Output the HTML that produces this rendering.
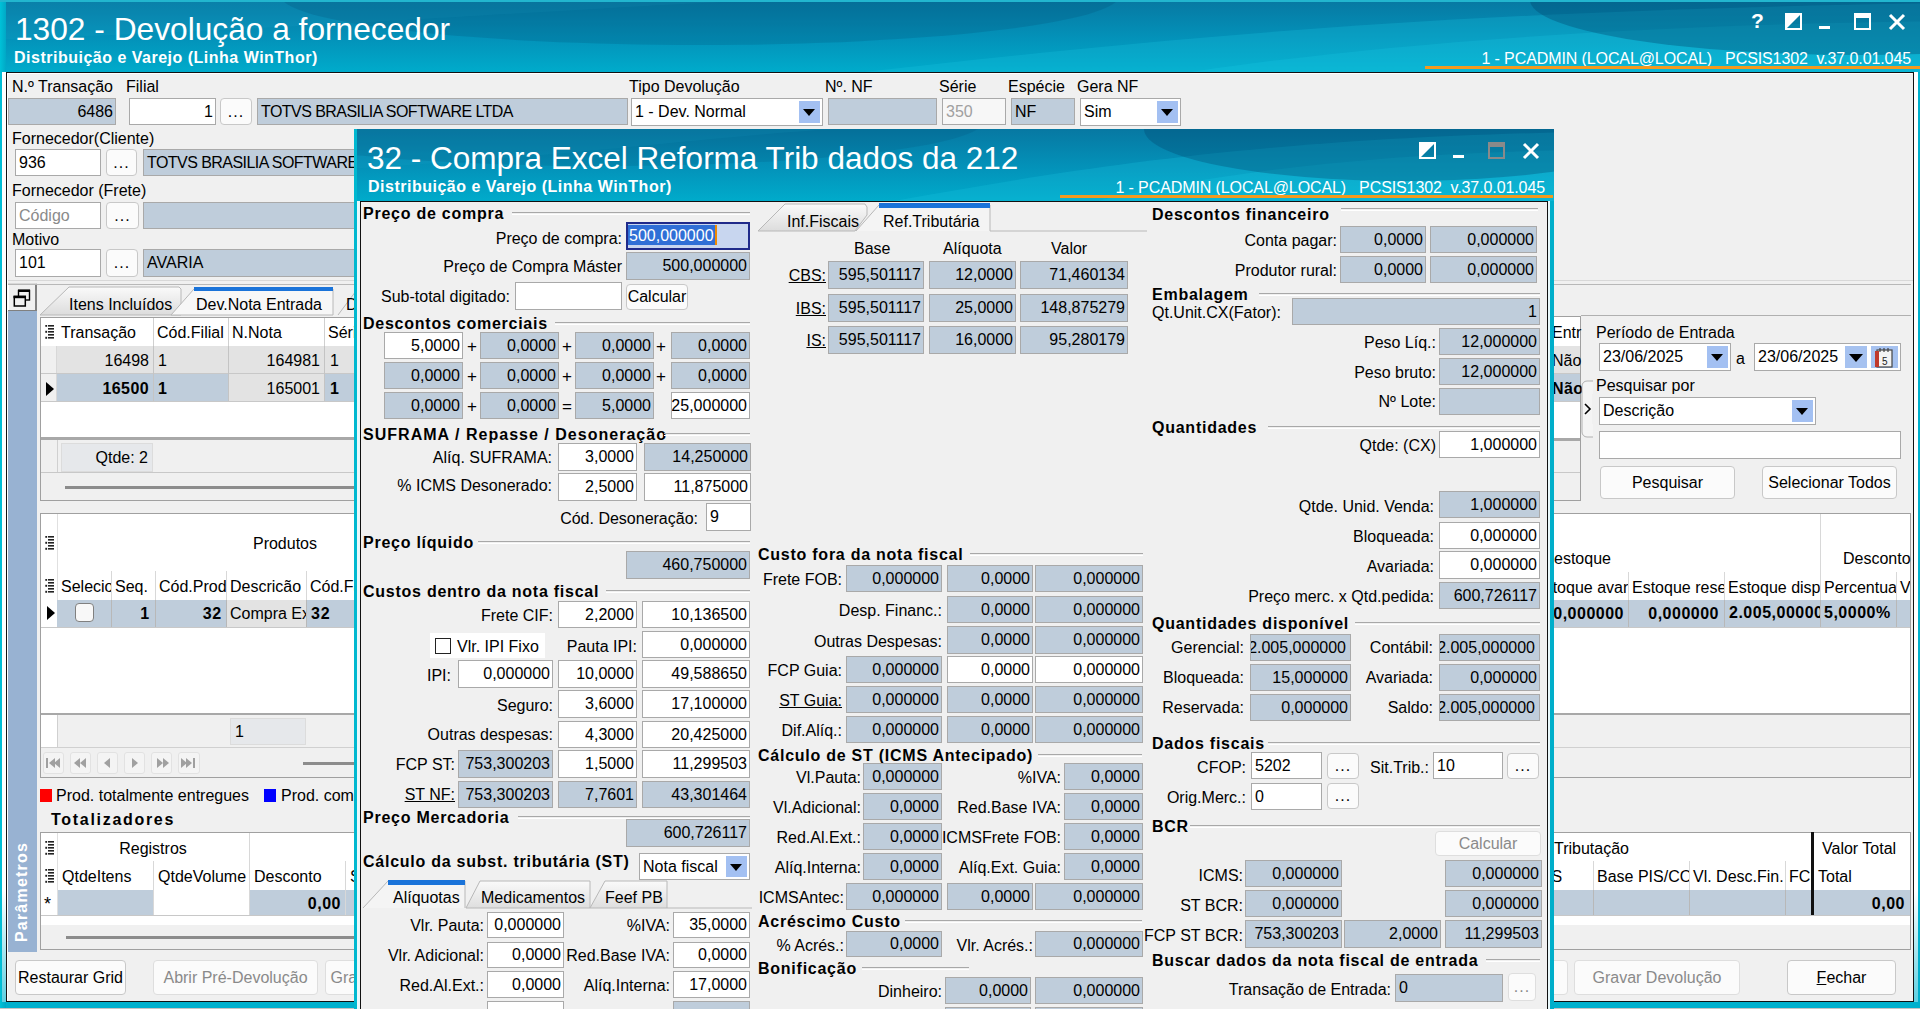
<!DOCTYPE html>
<html><head><meta charset="utf-8"><title>1302 - Devolução a fornecedor</title>
<style>html,body{margin:0;padding:0}
body{width:1920px;height:1009px;overflow:hidden;position:relative;font-family:"Liberation Sans",sans-serif;background:#00a9c9}
.a{position:absolute}
.t{position:absolute;white-space:nowrap;font-size:16px;line-height:18px;letter-spacing:0;color:#000}
.b{font-weight:bold;font-size:16px;letter-spacing:.75px}
.w{color:#fff}
.f{position:absolute;box-sizing:border-box;border:1px solid #a9a9a9;font-size:16px;letter-spacing:0;color:#000;white-space:nowrap;overflow:hidden;padding:0 2px 0 3px}
.ro{background:#bfcddb}
.wh{background:#fff}
.dd{position:absolute;right:2px;top:2px;width:21px;background:#a3c0f2}
.dd i{position:absolute;left:4px;top:50%;margin-top:-3px;border-left:6px solid transparent;border-right:6px solid transparent;border-top:7px solid #000}
.btn{position:absolute;box-sizing:border-box;border:1px solid #c8c8c8;border-radius:4px;background:#fbfbfb;font-size:16px;letter-spacing:0;color:#000;text-align:center;white-space:nowrap}
.btn.dis{color:#8a8a8a;border-color:#dedede}
.dots{letter-spacing:1px;font-weight:bold}
.sl{position:absolute;height:1px;border-top:1px solid #a8a8a8;border-bottom:1px solid #fff}
.u{text-decoration:underline}
.gi{width:12px;height:14px;background:repeating-linear-gradient(180deg,#000 0 2px,transparent 2px 3px);-webkit-mask:linear-gradient(90deg,#000 0 2px,transparent 2px 4px,#000 4px 12px)}
.dots{font-weight:normal}
</style></head><body>
<div class="a" style="left:0px;top:0px;width:1920px;height:1009px;background:#00b0cd"></div>
<svg class="a" style="left:0px;top:0px" width="1920" height="72"><defs><linearGradient id="bgm" x1="0" y1="0" x2="0" y2="1"><stop offset="0" stop-color="#0778a2"/><stop offset=".55" stop-color="#0393ba"/><stop offset="1" stop-color="#00abcb"/></linearGradient></defs><rect width="1920" height="72" fill="url(#bgm)"/><path d="M864.0,72 C1152.0,39.6 1440.0,10.799999999999999 1920,3.6 L1920,72 Z" fill="#19c3df" fill-opacity=".28"/><path d="M1190.4,72 C1382.3999999999999,43.199999999999996 1632.0,25.2 1920,21.599999999999998 L1920,72 Z" fill="#20d0ea" fill-opacity=".2"/><path d="M0,39.6 C384.0,25.2 576.0,7.2 768.0,0 L0,0 Z" fill="#1aa0c8" fill-opacity=".18"/><ellipse cx="1860" cy="0" rx="330" ry="55" fill="#00456e" fill-opacity=".35"/><ellipse cx="700" cy="-5" rx="420" ry="50" fill="#00456e" fill-opacity=".2"/></svg>
<div class="a" style="left:0px;top:0px;width:6px;height:1009px;background:linear-gradient(90deg,#00c2d8,#00a8c6)"></div>
<div class="t w" style="left:15px;top:11px;font-size:31.7px;line-height:36px;letter-spacing:0">1302 - Devolução a fornecedor</div>
<div class="t w b" style="left:14px;top:49px;font-size:16px;letter-spacing:.5px">Distribuição e Varejo (Linha WinThor)</div>
<div class="t w" style="right:9px;top:50px;font-size:16px;letter-spacing:-.1px">1 - PCADMIN (LOCAL@LOCAL)&nbsp;&nbsp; PCSIS1302&nbsp; v.37.0.01.045</div>
<div class="a" style="left:1425px;top:66px;width:495px;height:3px;background:#f39a1e"></div>
<div class="t w b" style="left:1751px;top:9px;font-size:21px;line-height:24px;letter-spacing:0">?</div>
<svg class="a" style="left:1785px;top:13px" width="17" height="17"><rect x="1" y="1" width="15" height="15" fill="none" stroke="#fff" stroke-width="2"/><path d="M0,0 L17,0 L0,17 Z" fill="#fff"/></svg>
<div class="a" style="left:1819px;top:26px;width:11px;height:3px;background:#fff"></div>
<svg class="a" style="left:1854px;top:13px" width="17" height="17"><rect x="1" y="1" width="15" height="15" fill="none" stroke="#fff" stroke-width="2"/><rect x="0" y="0" width="17" height="5" fill="#fff"/></svg>
<svg class="a" style="left:1888px;top:13px" width="18" height="18"><path d="M2,2 L16,16 M16,2 L2,16" stroke="#fff" stroke-width="3"/></svg>
<div class="a" style="left:6px;top:72px;width:1908px;height:930px;background:#f0f0f0;border:1px solid #111;box-sizing:border-box"></div>
<div class="a" style="left:0px;top:0px;width:1920px;height:2px;background:#22b6cf"></div>
<div class="a" style="left:7px;top:73px;width:1905px;height:1px;background:#fff"></div>
<div class="a" style="left:7px;top:73px;width:1px;height:928px;background:#fff"></div>
<div class="a" style="left:2px;top:72px;width:4px;height:930px;background:linear-gradient(180deg,#fff 0%,#fff 88%,#5fd0e2 100%)"></div>
<div class="a" style="left:1914px;top:72px;width:4px;height:930px;background:linear-gradient(180deg,#fff 0%,#fff 88%,#5fd0e2 100%)"></div>
<div class="a" style="left:0px;top:1008px;width:1920px;height:1px;background:#c9c3c3"></div>
<div class="t" style="left:12px;top:78px;">N.º Transação</div>
<div class="t" style="left:126px;top:78px;">Filial</div>
<div class="t" style="left:629px;top:78px;">Tipo Devolução</div>
<div class="t" style="left:825px;top:78px;">Nº. NF</div>
<div class="t" style="left:939px;top:78px;">Série</div>
<div class="t" style="left:1008px;top:78px;">Espécie</div>
<div class="t" style="left:1077px;top:78px;">Gera NF</div>
<div class="f ro" style="left:8px;top:98px;width:108px;height:27px;line-height:25px;text-align:right;"><span style="">6486</span></div>
<div class="f wh" style="left:129px;top:98px;width:87px;height:27px;line-height:25px;text-align:right;"><span style="">1</span></div>
<div class="btn" style="left:220px;top:98px;width:32px;height:27px;line-height:25px;"><span class="dots">...</span></div>
<div class="f ro" style="left:257px;top:98px;width:371px;height:27px;line-height:25px;text-align:left;"><span style="letter-spacing:-.55px">TOTVS BRASILIA SOFTWARE LTDA</span></div>
<div class="f wh" style="left:631px;top:98px;width:192px;height:28px;line-height:26px;text-align:left;padding-left:3px;"><span>1 - Dev. Normal</span><div class="dd" style="height:22px"><i></i></div></div>
<div class="f ro" style="left:828px;top:98px;width:109px;height:27px;line-height:25px;text-align:right;"><span style=""></span></div>
<div class="f wh" style="left:942px;top:98px;width:64px;height:27px;line-height:25px;text-align:left;background:#f7f7f7"><span style="color:#a0a0a0">350</span></div>
<div class="f ro" style="left:1011px;top:98px;width:64px;height:27px;line-height:25px;text-align:left;"><span style="">NF</span></div>
<div class="f wh" style="left:1080px;top:98px;width:101px;height:28px;line-height:26px;text-align:left;padding-left:3px;"><span>Sim</span><div class="dd" style="height:22px"><i></i></div></div>
<div class="t" style="left:12px;top:130px;">Fornecedor(Cliente)</div>
<div class="f wh" style="left:15px;top:149px;width:86px;height:27px;line-height:25px;text-align:left;"><span style="">936</span></div>
<div class="btn" style="left:106px;top:149px;width:31px;height:27px;line-height:25px;"><span class="dots">...</span></div>
<div class="f ro" style="left:143px;top:149px;width:257px;height:27px;line-height:25px;text-align:left;"><span style="letter-spacing:-.55px">TOTVS BRASILIA SOFTWARE LTDA</span></div>
<div class="t" style="left:12px;top:182px;">Fornecedor (Frete)</div>
<div class="f wh" style="left:15px;top:202px;width:86px;height:27px;line-height:25px;text-align:left;"><span style="color:#8a8a8a">Código</span></div>
<div class="btn" style="left:106px;top:202px;width:33px;height:27px;line-height:25px;"><span class="dots">...</span></div>
<div class="f ro" style="left:143px;top:202px;width:257px;height:27px;line-height:25px;text-align:left;"><span style=""></span></div>
<div class="t" style="left:12px;top:231px;">Motivo</div>
<div class="f wh" style="left:15px;top:249px;width:86px;height:28px;line-height:26px;text-align:left;"><span style="">101</span></div>
<div class="btn" style="left:106px;top:249px;width:32px;height:28px;line-height:26px;"><span class="dots">...</span></div>
<div class="f ro" style="left:143px;top:249px;width:257px;height:28px;line-height:26px;text-align:left;"><span style="">AVARIA</span></div>
<div class="a" style="left:8px;top:280px;width:1905px;height:1px;background:#d8d8d8"></div>
<svg class="a" style="left:7px;top:283px" width="32" height="30"><rect x="0" y="0" width="31" height="29" fill="#f0f0f0"/><path d="M1,28 V1 H29" stroke="#fff" stroke-width="2" fill="none"/><path d="M1,1 H30" stroke="#b0b0b0" stroke-width="1" fill="none"/><path d="M29,2 V28 H1" stroke="#808080" stroke-width="2" fill="none"/><rect x="11.5" y="7.5" width="11" height="9.5" fill="none" stroke="#000" stroke-width="1.4"/><rect x="11" y="6.5" width="12" height="2.5" fill="#000"/><rect x="7.3" y="13.5" width="11" height="9.5" fill="#f0f0f0" stroke="#000" stroke-width="1.5"/><rect x="6.5" y="12.7" width="12.5" height="2.5" fill="#000"/></svg>
<div class="a" style="left:8px;top:311px;width:29px;height:641px;background:#98b2d2"></div>
<div class="a" style="left:8px;top:841px;width:29px;height:101px;"><div style="position:absolute;left:50%;top:50%;transform:translate(-50%,-50%) rotate(-90deg);margin-left:-1px;color:#fff;font-weight:bold;font-size:16px;letter-spacing:1.2px;white-space:nowrap">Parâmetros</div></div>
<svg class="a" style="left:38px;top:285px" width="318" height="34"><path d="M2,30 L31,2 L141,2 L143,4 L143,30 Z" fill="url(#tg)" stroke="#b8b8b8"/><path d="M133,30 L156,4 L295,4 L295,30 Z" fill="#f7f7f7" stroke="#b8b8b8"/><rect x="156" y="2" width="139" height="4" fill="#1a73d9"/><path d="M300,30 L318,6" stroke="#b8b8b8" fill="none"/><defs><linearGradient id="tg" x1="0" y1="0" x2="0" y2="1"><stop offset="0" stop-color="#fafafa"/><stop offset="1" stop-color="#dcdcdc"/></linearGradient></defs></svg>
<div class="t" style="left:69px;top:296px;">Itens Incluídos</div>
<div class="t" style="left:196px;top:296px;">Dev.Nota Entrada</div>
<div class="t" style="left:346px;top:296px;">D</div>
<div class="a" style="left:40px;top:317px;width:316px;height:184px;background:#f0f0f0;border:1px solid #a0a0a0;box-sizing:border-box"></div>
<div class="a" style="left:41px;top:318px;width:315px;height:120px;background:#fff"></div>
<svg class="a" style="left:45px;top:325px" width="12" height="14" fill="#222"><rect x="3" y="0" width="6" height="1.6"/><rect x="0.3" y="-0.2" width="1.8" height="2"/><rect x="3" y="3" width="6" height="1.6"/><rect x="3" y="6" width="6" height="1.6"/><rect x="0.3" y="5.8" width="1.8" height="2"/><rect x="3" y="9" width="6" height="1.6"/><rect x="3" y="12" width="6" height="1.6"/><rect x="0.3" y="11.8" width="1.8" height="2"/></svg>
<div class="a" style="left:153px;top:318px;width:1px;height:84px;background:#d0d0d0"></div>
<div class="a" style="left:228px;top:318px;width:1px;height:84px;background:#d0d0d0"></div>
<div class="a" style="left:324px;top:318px;width:1px;height:84px;background:#d0d0d0"></div>
<div class="a" style="left:41px;top:346px;width:315px;height:1px;background:#e8e8e8"></div>
<div class="a" style="left:57px;top:318px;width:96px;height:28px;overflow:hidden"><div class="t" style="left:4px;top:6px;">Transação</div></div>
<div class="a" style="left:153px;top:318px;width:75px;height:28px;overflow:hidden"><div class="t" style="left:4px;top:6px;">Cód.Filial</div></div>
<div class="a" style="left:228px;top:318px;width:96px;height:28px;overflow:hidden"><div class="t" style="left:4px;top:6px;">N.Nota</div></div>
<div class="a" style="left:324px;top:318px;width:32px;height:28px;overflow:hidden"><div class="t" style="left:4px;top:6px;">Série</div></div>
<div class="a" style="left:41px;top:346px;width:16px;height:56px;background:#f0f0f0;border-right:1px solid #d8d8d8;box-sizing:border-box"></div>
<div class="a" style="left:57px;top:346px;width:299px;height:28px;background:#e3e3e3"></div>
<div class="a" style="left:153px;top:346px;width:1px;height:56px;background:#c8c8c8"></div>
<div class="a" style="left:228px;top:346px;width:1px;height:56px;background:#c8c8c8"></div>
<div class="a" style="left:324px;top:346px;width:1px;height:56px;background:#c8c8c8"></div>
<div class="a" style="left:41px;top:373px;width:315px;height:1px;background:#c8c8c8"></div>
<div class="a" style="left:57px;top:374px;width:96px;height:28px;background:#bfcddb"></div>
<div class="a" style="left:154px;top:374px;width:74px;height:28px;background:#bfcddb"></div>
<div class="a" style="left:229px;top:374px;width:95px;height:28px;background:#e3e3e3"></div>
<div class="a" style="left:325px;top:374px;width:31px;height:28px;background:#bfcddb"></div>
<div class="a" style="left:153px;top:346px;width:1px;height:56px;background:#c4c4c4"></div>
<div class="a" style="left:228px;top:346px;width:1px;height:56px;background:#c4c4c4"></div>
<div class="a" style="left:324px;top:346px;width:1px;height:56px;background:#c4c4c4"></div>
<div class="a" style="left:41px;top:401px;width:315px;height:1px;background:#c8c8c8"></div>
<div class="t" style="right:1771px;top:352px;">16498</div>
<div class="t" style="left:158px;top:352px;">1</div>
<div class="t" style="right:1600px;top:352px;">164981</div>
<div class="t" style="left:330px;top:352px;">1</div>
<div class="t b" style="right:1771px;top:380px;letter-spacing:.4px">16500</div>
<div class="t b" style="left:158px;top:380px;">1</div>
<div class="t" style="right:1600px;top:380px;">165001</div>
<div class="t b" style="left:330px;top:380px;">1</div>
<div class="a" style="left:46px;top:382px;border-top:7px solid transparent;border-bottom:7px solid transparent;border-left:8px solid #000"></div>
<div class="a" style="left:41px;top:437px;width:315px;height:3px;background:#a8a8a8"></div>
<div class="a" style="left:41px;top:440px;width:315px;height:33px;background:#f0f0f0"></div>
<div class="a" style="left:57px;top:440px;width:1px;height:33px;background:#d0d0d0"></div>
<div class="a" style="left:61px;top:443px;width:92px;height:29px;background:#e6e8eb;border:1px solid #dcdcdc;box-sizing:border-box"></div>
<div class="t" style="right:1772px;top:449px;">Qtde: 2</div>
<div class="a" style="left:41px;top:472px;width:315px;height:1px;background:#c8c8c8"></div>
<div class="a" style="left:65px;top:486px;width:291px;height:3px;background:#8c8c8c"></div>
<div class="a" style="left:40px;top:513px;width:316px;height:265px;background:#f0f0f0;border:1px solid #a0a0a0;box-sizing:border-box"></div>
<div class="a" style="left:41px;top:514px;width:315px;height:199px;background:#fff"></div>
<div class="a" style="left:57px;top:514px;width:1px;height:86px;background:#e0e0e0"></div>
<svg class="a" style="left:45px;top:536px" width="12" height="14" fill="#222"><rect x="3" y="0" width="6" height="1.6"/><rect x="0.3" y="-0.2" width="1.8" height="2"/><rect x="3" y="3" width="6" height="1.6"/><rect x="3" y="6" width="6" height="1.6"/><rect x="0.3" y="5.8" width="1.8" height="2"/><rect x="3" y="9" width="6" height="1.6"/><rect x="3" y="12" width="6" height="1.6"/><rect x="0.3" y="11.8" width="1.8" height="2"/></svg>
<svg class="a" style="left:45px;top:579px" width="12" height="14" fill="#222"><rect x="3" y="0" width="6" height="1.6"/><rect x="0.3" y="-0.2" width="1.8" height="2"/><rect x="3" y="3" width="6" height="1.6"/><rect x="3" y="6" width="6" height="1.6"/><rect x="0.3" y="5.8" width="1.8" height="2"/><rect x="3" y="9" width="6" height="1.6"/><rect x="3" y="12" width="6" height="1.6"/><rect x="0.3" y="11.8" width="1.8" height="2"/></svg>
<div class="t" style="left:-15px;width:600px;text-align:center;top:535px;">Produtos</div>
<div class="a" style="left:111px;top:571px;width:1px;height:56px;background:#d8d8d8"></div>
<div class="a" style="left:155px;top:571px;width:1px;height:56px;background:#d8d8d8"></div>
<div class="a" style="left:226px;top:571px;width:1px;height:56px;background:#d8d8d8"></div>
<div class="a" style="left:306px;top:571px;width:1px;height:56px;background:#d8d8d8"></div>
<div class="a" style="left:57px;top:572px;width:54px;height:28px;overflow:hidden"><div class="t" style="left:4px;top:6px;">Selecionado</div></div>
<div class="a" style="left:111px;top:572px;width:44px;height:28px;overflow:hidden"><div class="t" style="left:4px;top:6px;">Seq.</div></div>
<div class="a" style="left:155px;top:572px;width:71px;height:28px;overflow:hidden"><div class="t" style="left:4px;top:6px;">Cód.Produto</div></div>
<div class="a" style="left:226px;top:572px;width:80px;height:28px;overflow:hidden"><div class="t" style="left:4px;top:6px;">Descricão</div></div>
<div class="a" style="left:306px;top:572px;width:50px;height:28px;overflow:hidden"><div class="t" style="left:4px;top:6px;">Cód.Fab</div></div>
<div class="a" style="left:57px;top:600px;width:299px;height:27px;background:#bfcddb"></div>
<div class="a" style="left:227px;top:600px;width:79px;height:27px;background:#e3e3e3"></div>
<div class="a" style="left:111px;top:600px;width:1px;height:27px;background:#b8b8b8"></div>
<div class="a" style="left:155px;top:600px;width:1px;height:27px;background:#b8b8b8"></div>
<div class="a" style="left:226px;top:600px;width:1px;height:27px;background:#b8b8b8"></div>
<div class="a" style="left:306px;top:600px;width:1px;height:27px;background:#b8b8b8"></div>
<div class="a" style="left:41px;top:627px;width:315px;height:1px;background:#c8c8c8"></div>
<div class="a" style="left:47px;top:606px;border-top:7px solid transparent;border-bottom:7px solid transparent;border-left:8px solid #000"></div>
<div class="a" style="left:75px;top:603px;width:19px;height:19px;background:#f8f8f8;border:1px solid #808080;border-radius:4px;box-sizing:border-box"></div>
<div class="t b" style="right:1770px;top:605px;">1</div>
<div class="t b" style="right:1698px;top:605px;">32</div>
<div class="a" style="left:226px;top:599px;width:80px;height:28px;overflow:hidden"><div class="t" style="left:4px;top:6px;">Compra Excel</div></div>
<div class="t b" style="left:311px;top:605px;">32</div>
<div class="a" style="left:41px;top:713px;width:315px;height:2px;background:#a8a8a8"></div>
<div class="a" style="left:57px;top:715px;width:1px;height:32px;background:#d0d0d0"></div>
<div class="a" style="left:41px;top:715px;width:16px;height:32px;background:#fff"></div>
<div class="a" style="left:230px;top:718px;width:76px;height:27px;background:#e6e8eb;border:1px solid #dcdcdc;box-sizing:border-box"></div>
<div class="t" style="left:235px;top:723px;">1</div>
<div class="a" style="left:41px;top:747px;width:315px;height:1px;background:#d0d0d0"></div>
<div class="a" style="left:43px;top:752px;width:21px;height:22px;background:#f4f4f4;border:1px solid #e2e2e2;border-radius:3px;box-sizing:border-box"></div>
<div class="a" style="left:70px;top:752px;width:21px;height:22px;background:#f4f4f4;border:1px solid #e2e2e2;border-radius:3px;box-sizing:border-box"></div>
<div class="a" style="left:97px;top:752px;width:21px;height:22px;background:#f4f4f4;border:1px solid #e2e2e2;border-radius:3px;box-sizing:border-box"></div>
<div class="a" style="left:124px;top:752px;width:21px;height:22px;background:#f4f4f4;border:1px solid #e2e2e2;border-radius:3px;box-sizing:border-box"></div>
<div class="a" style="left:151px;top:752px;width:21px;height:22px;background:#f4f4f4;border:1px solid #e2e2e2;border-radius:3px;box-sizing:border-box"></div>
<div class="a" style="left:178px;top:752px;width:22px;height:22px;background:#f4f4f4;border:1px solid #e2e2e2;border-radius:3px;box-sizing:border-box"></div>
<svg class="a" style="left:43px;top:752px" width="157" height="22" fill="#a0a0a0"><rect x="3" y="6" width="2" height="10"/><path d="M12,6 L6,11 L12,16 Z"/><path d="M17,6 L11,11 L17,16 Z"/><path d="M37,6 L31,11 L37,16 Z"/><path d="M43,6 L37,11 L43,16 Z"/><path d="M67,6 L61,11 L67,16 Z"/><path d="M89,6 L95,11 L89,16 Z"/><path d="M114,6 L120,11 L114,16 Z"/><path d="M120,6 L126,11 L120,16 Z"/><path d="M138,6 L144,11 L138,16 Z"/><path d="M143,6 L149,11 L143,16 Z"/><rect x="150" y="6" width="2" height="10"/></svg>
<div class="a" style="left:303px;top:762px;width:53px;height:3px;background:#8c8c8c"></div>
<div class="a" style="left:40px;top:789px;width:12px;height:13px;background:#ff0000"></div>
<div class="t" style="left:56px;top:787px;">Prod. totalmente entregues</div>
<div class="a" style="left:264px;top:789px;width:12px;height:13px;background:#0000ff"></div>
<div class="t" style="left:281px;top:787px;">Prod. com</div>
<div class="t b" style="left:51px;top:811px;letter-spacing:1.7px">Totalizadores</div>
<div class="a" style="left:40px;top:832px;width:316px;height:118px;background:#f0f0f0;border:1px solid #a0a0a0;box-sizing:border-box"></div>
<div class="a" style="left:41px;top:833px;width:315px;height:92px;background:#fff"></div>
<div class="a" style="left:57px;top:833px;width:1px;height:82px;background:#e0e0e0"></div>
<svg class="a" style="left:45px;top:841px" width="12" height="14" fill="#222"><rect x="3" y="0" width="6" height="1.6"/><rect x="0.3" y="-0.2" width="1.8" height="2"/><rect x="3" y="3" width="6" height="1.6"/><rect x="3" y="6" width="6" height="1.6"/><rect x="0.3" y="5.8" width="1.8" height="2"/><rect x="3" y="9" width="6" height="1.6"/><rect x="3" y="12" width="6" height="1.6"/><rect x="0.3" y="11.8" width="1.8" height="2"/></svg>
<svg class="a" style="left:45px;top:869px" width="12" height="14" fill="#222"><rect x="3" y="0" width="6" height="1.6"/><rect x="0.3" y="-0.2" width="1.8" height="2"/><rect x="3" y="3" width="6" height="1.6"/><rect x="3" y="6" width="6" height="1.6"/><rect x="0.3" y="5.8" width="1.8" height="2"/><rect x="3" y="9" width="6" height="1.6"/><rect x="3" y="12" width="6" height="1.6"/><rect x="0.3" y="11.8" width="1.8" height="2"/></svg>
<div class="a" style="left:249px;top:833px;width:1px;height:82px;background:#d8d8d8"></div>
<div class="a" style="left:153px;top:861px;width:1px;height:54px;background:#d8d8d8"></div>
<div class="a" style="left:345px;top:861px;width:1px;height:54px;background:#d8d8d8"></div>
<div class="t" style="left:-147px;width:600px;text-align:center;top:840px;">Registros</div>
<div class="t" style="left:62px;top:868px;">QtdeItens</div>
<div class="t" style="left:158px;top:868px;">QtdeVolume</div>
<div class="t" style="left:254px;top:868px;">Desconto</div>
<div class="t" style="left:350px;top:868px;">S</div>
<div class="a" style="left:58px;top:890px;width:95px;height:25px;background:#bfcddb"></div>
<div class="a" style="left:250px;top:890px;width:95px;height:25px;background:#bfcddb"></div>
<div class="a" style="left:346px;top:890px;width:10px;height:25px;background:#bfcddb"></div>
<div class="a" style="left:41px;top:915px;width:315px;height:1px;background:#c8c8c8"></div>
<div class="t" style="left:44px;top:895px;font-size:18px">*</div>
<div class="t b" style="right:1579px;top:895px;letter-spacing:.5px">0,00</div>
<div class="a" style="left:41px;top:925px;width:315px;height:24px;background:#f0f0f0"></div>
<div class="a" style="left:66px;top:936px;width:290px;height:3px;background:#8c8c8c"></div>
<div class="btn" style="left:15px;top:960px;width:111px;height:35px;line-height:33px;">Restaurar Grid</div>
<div class="btn dis" style="left:153px;top:960px;width:165px;height:35px;line-height:33px;">Abrir Pré-Devolução</div>
<div class="btn dis" style="left:325px;top:960px;width:55px;height:35px;line-height:33px;text-align:left">&nbsp;Gra</div>
<div class="a" style="left:8px;top:284px;width:1903px;height:1px;background:#b8b8b8"></div>
<div class="a" style="left:1550px;top:316px;width:31px;height:185px;background:#f0f0f0;border:1px solid #a0a0a0;box-sizing:border-box"></div>
<div class="a" style="left:1550px;top:317px;width:30px;height:122px;background:#fff"></div>
<div class="a" style="left:1550px;top:346px;width:30px;height:28px;background:#e3e3e3"></div>
<div class="a" style="left:1550px;top:374px;width:30px;height:28px;background:#bfcddb"></div>
<div class="a" style="left:1550px;top:373px;width:30px;height:1px;background:#c8c8c8"></div>
<div class="a" style="left:1550px;top:401px;width:30px;height:1px;background:#c8c8c8"></div>
<div class="t" style="left:1552px;top:324px;">Entr</div>
<div class="t" style="left:1552px;top:352px;">Não</div>
<div class="t b" style="left:1552px;top:380px;letter-spacing:.4px">Não</div>
<div class="a" style="left:1550px;top:438px;width:30px;height:3px;background:#a8a8a8"></div>
<div class="a" style="left:1550px;top:472px;width:30px;height:1px;background:#c8c8c8"></div>
<div class="a" style="left:1581px;top:315px;width:330px;height:1px;background:#b0b0b0"></div>
<div class="t" style="left:1596px;top:324px;">Período de Entrada</div>
<div class="f wh" style="left:1599px;top:343px;width:132px;height:28px;line-height:26px;text-align:left;padding-left:3px;"><span>23/06/2025</span><div class="dd" style="height:22px"><i></i></div></div>
<div class="t" style="left:1736px;top:350px;">a</div>
<div class="f wh" style="left:1754px;top:343px;width:147px;height:28px;line-height:26px;text-align:left;padding-left:3px;"><span>23/06/2025</span><div class="dd" style="height:22px"><i></i></div></div>
<div class="a" style="left:1845px;top:346px;width:22px;height:22px;background:#a6c2f0"><i style="position:absolute;left:4px;top:8px;border-left:7px solid transparent;border-right:7px solid transparent;border-top:8px solid #000"></i></div>
<div class="a" style="left:1871px;top:346px;width:27px;height:22px;background:#a6c2f0"></div>
<svg class="a" style="left:1872px;top:345px" width="26" height="24"><rect x="5" y="5" width="15" height="17" fill="#f4f4f4" stroke="#444" stroke-width="1.2"/><rect x="3" y="6" width="4" height="16" fill="#c0392b"/><path d="M8,3 v4 M12,3 v4 M16,3 v4" stroke="#444" stroke-width="1.2"/><text x="10" y="20" font-size="10" font-family="Liberation Sans" fill="#222">5</text></svg>
<div class="t" style="left:1596px;top:377px;">Pesquisar por</div>
<div class="f wh" style="left:1599px;top:397px;width:217px;height:28px;line-height:26px;text-align:left;padding-left:3px;"><span>Descrição</span><div class="dd" style="height:22px"><i></i></div></div>
<div class="f wh" style="left:1599px;top:431px;width:302px;height:28px;line-height:26px;text-align:right;"><span style=""></span></div>
<div class="btn" style="left:1600px;top:466px;width:135px;height:33px;line-height:31px;">Pesquisar</div>
<div class="btn" style="left:1762px;top:466px;width:135px;height:33px;line-height:31px;">Selecionar Todos</div>
<svg class="a" style="left:1580px;top:380px" width="14" height="58"><path d="M13,1 h-6 a5,5 0 0 0 -5,5 v46 a5,5 0 0 0 5,5 h6" fill="#f4f4f4" stroke="#b0b0b0"/><path d="M13,14 v30" stroke="#f0f0f0" stroke-width="2"/><path d="M5,24 L10,29 L5,34" stroke="#000" stroke-width="1.6" fill="none"/></svg>
<div class="a" style="left:1554px;top:513px;width:357px;height:265px;background:#f0f0f0;border:1px solid #a0a0a0;border-left:none;box-sizing:border-box"></div>
<div class="a" style="left:1554px;top:514px;width:356px;height:199px;background:#fff"></div>
<div class="a" style="left:1820px;top:514px;width:1px;height:86px;background:#d8d8d8"></div>
<div class="a" style="left:1628px;top:572px;width:1px;height:28px;background:#d8d8d8"></div>
<div class="a" style="left:1724px;top:572px;width:1px;height:28px;background:#d8d8d8"></div>
<div class="a" style="left:1896px;top:572px;width:1px;height:28px;background:#d8d8d8"></div>
<div class="t" style="left:1554px;top:550px;">estoque</div>
<div class="t" style="left:1843px;top:550px;">Desconto</div>
<div class="a" style="left:1500px;top:573px;width:128px;height:28px;overflow:hidden"><div class="t" style="left:34px;top:6px;">Estoque avariado</div></div>
<div class="a" style="left:1628px;top:573px;width:96px;height:28px;overflow:hidden"><div class="t" style="left:4px;top:6px;">Estoque reservado</div></div>
<div class="a" style="left:1724px;top:573px;width:96px;height:28px;overflow:hidden"><div class="t" style="left:4px;top:6px;">Estoque disponível</div></div>
<div class="a" style="left:1820px;top:573px;width:76px;height:28px;overflow:hidden"><div class="t" style="left:4px;top:6px;">Percentual</div></div>
<div class="a" style="left:1896px;top:573px;width:14px;height:28px;overflow:hidden"><div class="t" style="left:4px;top:6px;">Valor</div></div>
<div class="a" style="left:1554px;top:600px;width:356px;height:27px;background:#bfcddb"></div>
<div class="a" style="left:1628px;top:600px;width:1px;height:27px;background:#b8b8b8"></div>
<div class="a" style="left:1724px;top:600px;width:1px;height:27px;background:#b8b8b8"></div>
<div class="a" style="left:1820px;top:600px;width:1px;height:27px;background:#b8b8b8"></div>
<div class="a" style="left:1896px;top:600px;width:1px;height:27px;background:#b8b8b8"></div>
<div class="a" style="left:1554px;top:627px;width:356px;height:1px;background:#c8c8c8"></div>
<div class="t b" style="right:296px;top:605px;letter-spacing:.5px">0,000000</div>
<div class="t b" style="right:201px;top:605px;letter-spacing:.5px">0,000000</div>
<div class="a" style="left:1725px;top:600px;width:95px;height:27px;overflow:hidden"><div class="t b" style="left:4px;top:4px;letter-spacing:.5px">2.005,000000</div></div>
<div class="a" style="left:1821px;top:600px;width:75px;height:27px;overflow:hidden"><div class="t b" style="left:3px;top:4px;letter-spacing:.5px">5,0000%</div></div>
<div class="a" style="left:1554px;top:713px;width:356px;height:2px;background:#a8a8a8"></div>
<div class="a" style="left:1554px;top:747px;width:356px;height:1px;background:#d0d0d0"></div>
<div class="a" style="left:1554px;top:832px;width:357px;height:118px;background:#f0f0f0;border:1px solid #a0a0a0;border-left:none;box-sizing:border-box"></div>
<div class="a" style="left:1554px;top:833px;width:356px;height:92px;background:#fff"></div>
<div class="a" style="left:1593px;top:861px;width:1px;height:54px;background:#d8d8d8"></div>
<div class="a" style="left:1689px;top:861px;width:1px;height:54px;background:#d8d8d8"></div>
<div class="a" style="left:1785px;top:861px;width:1px;height:54px;background:#d8d8d8"></div>
<div class="a" style="left:1811px;top:832px;width:3px;height:84px;background:#111"></div>
<div class="t" style="left:1554px;top:840px;">Tributação</div>
<div class="t" style="left:1822px;top:840px;">Valor Total</div>
<div class="a" style="left:1500px;top:862px;width:93px;height:28px;overflow:hidden"><div class="t" style="left:-1px;top:6px;">Vl. ICMS</div></div>
<div class="a" style="left:1593px;top:862px;width:96px;height:28px;overflow:hidden"><div class="t" style="left:4px;top:6px;">Base PIS/COFINS</div></div>
<div class="a" style="left:1689px;top:862px;width:96px;height:28px;overflow:hidden"><div class="t" style="left:4px;top:6px;">Vl. Desc.Fin.</div></div>
<div class="a" style="left:1785px;top:862px;width:26px;height:28px;overflow:hidden"><div class="t" style="left:4px;top:6px;">FCP</div></div>
<div class="t" style="left:1818px;top:868px;">Total</div>
<div class="a" style="left:1554px;top:890px;width:356px;height:25px;background:#bfcddb"></div>
<div class="a" style="left:1593px;top:890px;width:1px;height:25px;background:#b8b8b8"></div>
<div class="a" style="left:1689px;top:890px;width:1px;height:25px;background:#b8b8b8"></div>
<div class="a" style="left:1785px;top:890px;width:1px;height:25px;background:#b8b8b8"></div>
<div class="a" style="left:1811px;top:832px;width:3px;height:84px;background:#111"></div>
<div class="a" style="left:1554px;top:915px;width:356px;height:1px;background:#c8c8c8"></div>
<div class="t b" style="right:15px;top:895px;letter-spacing:.5px">0,00</div>
<div class="btn dis" style="left:1520px;top:960px;width:48px;height:35px;line-height:33px;"></div>
<div class="btn dis" style="left:1574px;top:960px;width:166px;height:35px;line-height:33px;">Gravar Devolução</div>
<div class="btn" style="left:1787px;top:960px;width:109px;height:35px;line-height:33px;"><span class="u">F</span>echar</div>
<div class="a" style="left:354px;top:129px;width:1200px;height:880px;background:#00aeca"></div>
<svg class="a" style="left:354px;top:129px" width="1200" height="72"><defs><linearGradient id="bgd" x1="0" y1="0" x2="0" y2="1"><stop offset="0" stop-color="#0778a2"/><stop offset=".55" stop-color="#0393ba"/><stop offset="1" stop-color="#00abcb"/></linearGradient></defs><rect width="1200" height="72" fill="url(#bgd)"/><path d="M540.0,72 C720.0,39.6 900.0,10.799999999999999 1200,3.6 L1200,72 Z" fill="#19c3df" fill-opacity=".28"/><path d="M744.0,72 C864.0,43.199999999999996 1020.0,25.2 1200,21.599999999999998 L1200,72 Z" fill="#20d0ea" fill-opacity=".2"/><path d="M0,39.6 C240.0,25.2 360.0,7.2 480.0,0 L0,0 Z" fill="#1aa0c8" fill-opacity=".18"/><ellipse cx="1050" cy="0" rx="260" ry="52" fill="#00456e" fill-opacity=".32"/><ellipse cx="250" cy="-8" rx="380" ry="45" fill="#00456e" fill-opacity=".15"/></svg>
<div class="a" style="left:354px;top:129px;width:3px;height:880px;background:#00b8d0"></div>
<div class="t w" style="left:367px;top:140px;font-size:31.5px;line-height:36px;letter-spacing:0">32 - Compra Excel Reforma Trib dados da 212</div>
<div class="t w b" style="left:368px;top:178px;font-size:16px;letter-spacing:.5px">Distribuição e Varejo (Linha WinThor)</div>
<div class="t w" style="right:375px;top:179px;font-size:16px;letter-spacing:-.1px">1 - PCADMIN (LOCAL@LOCAL)&nbsp;&nbsp; PCSIS1302&nbsp; v.37.0.01.045</div>
<div class="a" style="left:1060px;top:195px;width:493px;height:3px;background:#f39a1e"></div>
<svg class="a" style="left:1419px;top:142px" width="17" height="17"><rect x="1" y="1" width="15" height="15" fill="none" stroke="#fff" stroke-width="2"/><path d="M0,0 L17,0 L0,17 Z" fill="#fff"/></svg>
<div class="a" style="left:1453px;top:155px;width:11px;height:3px;background:#fff"></div>
<svg class="a" style="left:1488px;top:142px" width="17" height="17"><rect x="1" y="1" width="15" height="15" fill="none" stroke="#8a8a8a" stroke-width="2"/><rect x="0" y="0" width="17" height="5" fill="#8a8a8a"/></svg>
<svg class="a" style="left:1522px;top:142px" width="18" height="18"><path d="M2,2 L16,16 M16,2 L2,16" stroke="#fff" stroke-width="3"/></svg>
<div class="a" style="left:360px;top:201px;width:1188px;height:808px;background:#f0f0f0;border:1px solid #111;border-bottom:none;box-sizing:border-box"></div>
<div class="a" style="left:357px;top:201px;width:3px;height:808px;background:#e8f8fb"></div>
<div class="a" style="left:1548px;top:201px;width:2px;height:808px;background:#e8f8fb"></div>
<div class="t b" style="left:363px;top:205px;">Preço de compra</div>
<div class="sl" style="left:512px;top:212px;width:238px"></div>
<div class="t" style="right:1298px;top:230px;">Preço de compra:</div>
<div class="a" style="left:626px;top:222px;width:124px;height:28px;box-sizing:border-box;border:2px solid #1f2a8a;background:#c8d6ef"></div>
<div class="a" style="left:628px;top:225px;width:87px;height:20px;background:#2f6fd6"></div>
<div class="t" style="left:629px;top:227px;color:#fff;letter-spacing:0">500,000000</div>
<div class="a" style="left:715px;top:225px;width:2px;height:20px;background:#f08a00"></div>
<div class="t" style="right:1298px;top:258px;">Preço de Compra Máster</div>
<div class="f ro" style="left:626px;top:252px;width:124px;height:28px;line-height:26px;text-align:right;"><span style="">500,000000</span></div>
<div class="t" style="right:1410px;top:288px;">Sub-total digitado:</div>
<div class="f wh" style="left:515px;top:282px;width:107px;height:28px;line-height:26px;text-align:right;"><span style=""></span></div>
<div class="btn" style="left:626px;top:284px;width:62px;height:26px;line-height:24px;letter-spacing:0">Calcular</div>
<div class="t b" style="left:363px;top:315px;">Descontos comerciais</div>
<div class="sl" style="left:555px;top:322px;width:195px"></div>
<div class="f wh" style="left:384px;top:332px;width:79px;height:27px;line-height:25px;text-align:right;"><span style="">5,0000</span></div>
<div class="f ro" style="left:480px;top:332px;width:79px;height:27px;line-height:25px;text-align:right;"><span style="">0,0000</span></div>
<div class="f ro" style="left:575px;top:332px;width:79px;height:27px;line-height:25px;text-align:right;"><span style="">0,0000</span></div>
<div class="f ro" style="left:671px;top:332px;width:79px;height:27px;line-height:25px;text-align:right;"><span style="">0,0000</span></div>
<div class="t" style="left:172px;width:600px;text-align:center;top:338px;font-size:17px;letter-spacing:0">+</div>
<div class="t" style="left:267px;width:600px;text-align:center;top:338px;font-size:17px;letter-spacing:0">+</div>
<div class="t" style="left:361px;width:600px;text-align:center;top:338px;font-size:17px;letter-spacing:0">+</div>
<div class="f ro" style="left:384px;top:362px;width:79px;height:27px;line-height:25px;text-align:right;"><span style="">0,0000</span></div>
<div class="f ro" style="left:480px;top:362px;width:79px;height:27px;line-height:25px;text-align:right;"><span style="">0,0000</span></div>
<div class="f ro" style="left:575px;top:362px;width:79px;height:27px;line-height:25px;text-align:right;"><span style="">0,0000</span></div>
<div class="f ro" style="left:671px;top:362px;width:79px;height:27px;line-height:25px;text-align:right;"><span style="">0,0000</span></div>
<div class="t" style="left:172px;width:600px;text-align:center;top:368px;font-size:17px;letter-spacing:0">+</div>
<div class="t" style="left:267px;width:600px;text-align:center;top:368px;font-size:17px;letter-spacing:0">+</div>
<div class="t" style="left:361px;width:600px;text-align:center;top:368px;font-size:17px;letter-spacing:0">+</div>
<div class="f ro" style="left:384px;top:392px;width:79px;height:27px;line-height:25px;text-align:right;"><span style="">0,0000</span></div>
<div class="f ro" style="left:480px;top:392px;width:79px;height:27px;line-height:25px;text-align:right;"><span style="">0,0000</span></div>
<div class="f ro" style="left:575px;top:392px;width:79px;height:27px;line-height:25px;text-align:right;"><span style="">5,0000</span></div>
<div class="f wh" style="left:671px;top:392px;width:79px;height:27px;line-height:25px;text-align:right;direction:rtl;padding-right:2px;padding-left:0"><span style="">25,000000</span></div>
<div class="t" style="left:172px;width:600px;text-align:center;top:398px;font-size:17px;letter-spacing:0">+</div>
<div class="t" style="left:267px;width:600px;text-align:center;top:398px;font-size:17px;letter-spacing:0">=</div>
<div class="t b" style="left:363px;top:426px;letter-spacing:1.02px">SUFRAMA / Repasse / Desoneração</div>
<div class="sl" style="left:664px;top:433px;width:86px"></div>
<div class="t" style="right:1368px;top:449px;">Alíq. SUFRAMA:</div>
<div class="f wh" style="left:558px;top:443px;width:79px;height:28px;line-height:26px;text-align:right;"><span style="">3,0000</span></div>
<div class="f ro" style="left:644px;top:443px;width:107px;height:28px;line-height:26px;text-align:right;"><span style="">14,250000</span></div>
<div class="t" style="right:1368px;top:477px;">% ICMS Desonerado:</div>
<div class="f wh" style="left:558px;top:473px;width:79px;height:28px;line-height:26px;text-align:right;"><span style="">2,5000</span></div>
<div class="f wh" style="left:644px;top:473px;width:107px;height:28px;line-height:26px;text-align:right;"><span style="">11,875000</span></div>
<div class="t" style="right:1222px;top:510px;">Cód. Desoneração:</div>
<div class="f wh" style="left:706px;top:503px;width:45px;height:28px;line-height:26px;text-align:left;"><span style="">9</span></div>
<div class="t b" style="left:363px;top:534px;">Preço líquido</div>
<div class="sl" style="left:478px;top:541px;width:272px"></div>
<div class="f ro" style="left:626px;top:551px;width:124px;height:28px;line-height:26px;text-align:right;"><span style="">460,750000</span></div>
<div class="t b" style="left:363px;top:583px;">Custos dentro da nota fiscal</div>
<div class="sl" style="left:606px;top:590px;width:144px"></div>
<div class="t" style="right:1367px;top:607px;">Frete CIF:</div>
<div class="f wh" style="left:558px;top:601px;width:79px;height:27px;line-height:25px;text-align:right;"><span style="">2,2000</span></div>
<div class="f wh" style="left:642px;top:601px;width:108px;height:27px;line-height:25px;text-align:right;"><span style="">10,136500</span></div>
<div class="a" style="left:430px;top:633px;width:115px;height:25px;background:#fff"></div>
<div class="a" style="left:435px;top:638px;width:16px;height:16px;background:#fff;border:1.5px solid #222;box-sizing:border-box"></div>
<div class="t" style="left:457px;top:638px;">Vlr. IPI Fixo</div>
<div class="t" style="right:1283px;top:638px;">Pauta IPI:</div>
<div class="f wh" style="left:642px;top:631px;width:108px;height:27px;line-height:25px;text-align:right;"><span style="">0,000000</span></div>
<div class="t" style="right:1469px;top:667px;">IPI:</div>
<div class="f wh" style="left:458px;top:660px;width:95px;height:28px;line-height:26px;text-align:right;"><span style="">0,000000</span></div>
<div class="f wh" style="left:558px;top:660px;width:79px;height:28px;line-height:26px;text-align:right;"><span style="">10,0000</span></div>
<div class="f wh" style="left:642px;top:660px;width:108px;height:28px;line-height:26px;text-align:right;"><span style="">49,588650</span></div>
<div class="t" style="right:1367px;top:697px;">Seguro:</div>
<div class="f wh" style="left:558px;top:690px;width:79px;height:28px;line-height:26px;text-align:right;"><span style="">3,6000</span></div>
<div class="f wh" style="left:642px;top:690px;width:108px;height:28px;line-height:26px;text-align:right;"><span style="">17,100000</span></div>
<div class="t" style="right:1367px;top:726px;">Outras despesas:</div>
<div class="f wh" style="left:558px;top:721px;width:79px;height:27px;line-height:25px;text-align:right;"><span style="">4,3000</span></div>
<div class="f wh" style="left:642px;top:721px;width:108px;height:27px;line-height:25px;text-align:right;"><span style="">20,425000</span></div>
<div class="t" style="right:1465px;top:756px;">FCP ST:</div>
<div class="f ro" style="left:458px;top:750px;width:95px;height:28px;line-height:26px;text-align:right;"><span style="">753,300203</span></div>
<div class="f wh" style="left:558px;top:750px;width:79px;height:28px;line-height:26px;text-align:right;"><span style="">1,5000</span></div>
<div class="f wh" style="left:642px;top:750px;width:108px;height:28px;line-height:26px;text-align:right;"><span style="">11,299503</span></div>
<div class="t" style="right:1465px;top:786px;"><span class="u">ST NF:</span></div>
<div class="f ro" style="left:458px;top:781px;width:95px;height:27px;line-height:25px;text-align:right;"><span style="">753,300203</span></div>
<div class="f ro" style="left:558px;top:781px;width:79px;height:27px;line-height:25px;text-align:right;"><span style="">7,7601</span></div>
<div class="f ro" style="left:642px;top:781px;width:108px;height:27px;line-height:25px;text-align:right;"><span style="">43,301464</span></div>
<div class="t b" style="left:363px;top:809px;">Preço Mercadoria</div>
<div class="sl" style="left:518px;top:816px;width:232px"></div>
<div class="f ro" style="left:626px;top:819px;width:124px;height:28px;line-height:26px;text-align:right;"><span style="">600,726117</span></div>
<div class="t b" style="left:363px;top:853px;">Cálculo da subst. tributária (ST)</div>
<div class="f wh" style="left:639px;top:853px;width:111px;height:27px;line-height:25px;text-align:left;padding-left:3px;"><span>Nota fiscal</span><div class="dd" style="height:21px"><i></i></div></div>
<svg class="a" style="left:360px;top:878px" width="392" height="32"><defs><linearGradient id="tg2" x1="0" y1="0" x2="0" y2="1"><stop offset="0" stop-color="#fafafa"/><stop offset="1" stop-color="#dedede"/></linearGradient></defs><path d="M106,30 L120,3 L230,3 L230,30 Z" fill="url(#tg2)" stroke="#b8b8b8"/><path d="M230,30 L245,3 L307,3 L307,30 Z" fill="url(#tg2)" stroke="#b8b8b8"/><path d="M3,30 L28,3 L105,3 L105,30" fill="#f4f4f4" stroke="#b8b8b8"/><rect x="28" y="2" width="77" height="5" fill="#1a73d9"/><path d="M307,30 L392,30" stroke="#b8b8b8"/></svg>
<div class="t" style="left:393px;top:889px;">Alíquotas</div>
<div class="t" style="left:481px;top:889px;">Medicamentos</div>
<div class="t" style="left:605px;top:889px;">Feef PB</div>
<div class="t" style="right:1436px;top:917px;">Vlr. Pauta:</div>
<div class="f wh" style="left:487px;top:912px;width:77px;height:26px;line-height:24px;text-align:right;"><span style="">0,000000</span></div>
<div class="t" style="right:1250px;top:917px;">%IVA:</div>
<div class="f wh" style="left:673px;top:912px;width:77px;height:26px;line-height:24px;text-align:right;"><span style="">35,0000</span></div>
<div class="t" style="right:1436px;top:947px;">Vlr. Adicional:</div>
<div class="f wh" style="left:487px;top:942px;width:77px;height:26px;line-height:24px;text-align:right;"><span style="">0,0000</span></div>
<div class="t" style="right:1250px;top:947px;">Red.Base IVA:</div>
<div class="f wh" style="left:673px;top:942px;width:77px;height:26px;line-height:24px;text-align:right;"><span style="">0,0000</span></div>
<div class="t" style="right:1436px;top:977px;">Red.Al.Ext.:</div>
<div class="f wh" style="left:487px;top:971px;width:77px;height:27px;line-height:25px;text-align:right;"><span style="">0,0000</span></div>
<div class="t" style="right:1250px;top:977px;">Alíq.Interna:</div>
<div class="f wh" style="left:673px;top:971px;width:77px;height:27px;line-height:25px;text-align:right;"><span style="">17,0000</span></div>
<div class="f wh" style="left:487px;top:1001px;width:77px;height:27px;line-height:25px;text-align:right;"><span style=""></span></div>
<div class="f ro" style="left:673px;top:1001px;width:77px;height:27px;line-height:25px;text-align:right;"><span style=""></span></div>
<svg class="a" style="left:755px;top:201px" width="392" height="33"><defs><linearGradient id="tg3" x1="0" y1="0" x2="0" y2="1"><stop offset="0" stop-color="#fafafa"/><stop offset="1" stop-color="#dcdcdc"/></linearGradient></defs><path d="M3,30 L30,3 L110,3 L112,6 L112,14 L100,30 Z" fill="url(#tg3)" stroke="#b8b8b8"/><path d="M101,30 L124,4 L235,4 L235,30" fill="#f4f4f4" stroke="#b8b8b8"/><rect x="124" y="2" width="111" height="5" fill="#1a73d9"/><path d="M235,30 L392,30" stroke="#b8b8b8"/></svg>
<div class="t" style="left:787px;top:213px;">Inf.Fiscais</div>
<div class="t" style="left:883px;top:213px;">Ref.Tributária</div>
<div class="t" style="left:854px;top:240px;">Base</div>
<div class="t" style="left:943px;top:240px;">Alíquota</div>
<div class="t" style="left:1051px;top:240px;">Valor</div>
<div class="t" style="right:1094px;top:267px;"><span class="u">CBS:</span></div>
<div class="f ro" style="left:828px;top:261px;width:96px;height:28px;line-height:26px;text-align:right;"><span style="">595,501117</span></div>
<div class="f ro" style="left:929px;top:261px;width:87px;height:28px;line-height:26px;text-align:right;"><span style="">12,0000</span></div>
<div class="f ro" style="left:1020px;top:261px;width:108px;height:28px;line-height:26px;text-align:right;"><span style="">71,460134</span></div>
<div class="t" style="right:1094px;top:300px;"><span class="u">IBS:</span></div>
<div class="f ro" style="left:828px;top:294px;width:96px;height:28px;line-height:26px;text-align:right;"><span style="">595,501117</span></div>
<div class="f ro" style="left:929px;top:294px;width:87px;height:28px;line-height:26px;text-align:right;"><span style="">25,0000</span></div>
<div class="f ro" style="left:1020px;top:294px;width:108px;height:28px;line-height:26px;text-align:right;"><span style="">148,875279</span></div>
<div class="t" style="right:1094px;top:332px;"><span class="u">IS:</span></div>
<div class="f ro" style="left:828px;top:326px;width:96px;height:28px;line-height:26px;text-align:right;"><span style="">595,501117</span></div>
<div class="f ro" style="left:929px;top:326px;width:87px;height:28px;line-height:26px;text-align:right;"><span style="">16,0000</span></div>
<div class="f ro" style="left:1020px;top:326px;width:108px;height:28px;line-height:26px;text-align:right;"><span style="">95,280179</span></div>
<div class="t b" style="left:758px;top:546px;">Custo fora da nota fiscal</div>
<div class="sl" style="left:970px;top:553px;width:173px"></div>
<div class="t" style="right:1078px;top:571px;">Frete FOB:</div>
<div class="f ro" style="left:846px;top:565px;width:96px;height:27px;line-height:25px;text-align:right;"><span style="">0,000000</span></div>
<div class="f ro" style="left:947px;top:565px;width:86px;height:27px;line-height:25px;text-align:right;"><span style="">0,0000</span></div>
<div class="f ro" style="left:1035px;top:565px;width:108px;height:27px;line-height:25px;text-align:right;"><span style="">0,000000</span></div>
<div class="t" style="right:978px;top:602px;">Desp. Financ.:</div>
<div class="f ro" style="left:947px;top:596px;width:86px;height:27px;line-height:25px;text-align:right;"><span style="">0,0000</span></div>
<div class="f ro" style="left:1035px;top:596px;width:108px;height:27px;line-height:25px;text-align:right;"><span style="">0,000000</span></div>
<div class="t" style="right:978px;top:633px;">Outras Despesas:</div>
<div class="f ro" style="left:947px;top:626px;width:86px;height:28px;line-height:26px;text-align:right;"><span style="">0,0000</span></div>
<div class="f ro" style="left:1035px;top:626px;width:108px;height:28px;line-height:26px;text-align:right;"><span style="">0,000000</span></div>
<div class="t" style="right:1078px;top:662px;">FCP Guia:</div>
<div class="f ro" style="left:846px;top:656px;width:96px;height:27px;line-height:25px;text-align:right;"><span style="">0,000000</span></div>
<div class="f wh" style="left:947px;top:656px;width:86px;height:27px;line-height:25px;text-align:right;"><span style="">0,0000</span></div>
<div class="f wh" style="left:1035px;top:656px;width:108px;height:27px;line-height:25px;text-align:right;"><span style="">0,000000</span></div>
<div class="t" style="right:1078px;top:692px;"><span class="u">ST Guia:</span></div>
<div class="f ro" style="left:846px;top:686px;width:96px;height:27px;line-height:25px;text-align:right;"><span style="">0,000000</span></div>
<div class="f ro" style="left:947px;top:686px;width:86px;height:27px;line-height:25px;text-align:right;"><span style="">0,0000</span></div>
<div class="f ro" style="left:1035px;top:686px;width:108px;height:27px;line-height:25px;text-align:right;"><span style="">0,000000</span></div>
<div class="t" style="right:1078px;top:722px;">Dif.Alíq.:</div>
<div class="f ro" style="left:846px;top:716px;width:96px;height:27px;line-height:25px;text-align:right;"><span style="">0,000000</span></div>
<div class="f ro" style="left:947px;top:716px;width:86px;height:27px;line-height:25px;text-align:right;"><span style="">0,0000</span></div>
<div class="f ro" style="left:1035px;top:716px;width:108px;height:27px;line-height:25px;text-align:right;"><span style="">0,000000</span></div>
<div class="t b" style="left:758px;top:747px;">Cálculo de ST (ICMS Antecipado)</div>
<div class="sl" style="left:1038px;top:754px;width:104px"></div>
<div class="t" style="right:1059px;top:769px;">Vl.Pauta:</div>
<div class="f ro" style="left:863px;top:763px;width:79px;height:27px;line-height:25px;text-align:right;"><span style="">0,000000</span></div>
<div class="t" style="right:859px;top:769px;">%IVA:</div>
<div class="f ro" style="left:1064px;top:763px;width:79px;height:27px;line-height:25px;text-align:right;"><span style="">0,0000</span></div>
<div class="t" style="right:1059px;top:799px;">Vl.Adicional:</div>
<div class="f ro" style="left:863px;top:793px;width:79px;height:27px;line-height:25px;text-align:right;"><span style="">0,0000</span></div>
<div class="t" style="right:859px;top:799px;">Red.Base IVA:</div>
<div class="f ro" style="left:1064px;top:793px;width:79px;height:27px;line-height:25px;text-align:right;"><span style="">0,0000</span></div>
<div class="t" style="right:1059px;top:829px;">Red.Al.Ext.:</div>
<div class="f ro" style="left:863px;top:823px;width:79px;height:27px;line-height:25px;text-align:right;"><span style="">0,0000</span></div>
<div class="t" style="right:859px;top:829px;">ICMSFrete FOB:</div>
<div class="f ro" style="left:1064px;top:823px;width:79px;height:27px;line-height:25px;text-align:right;"><span style="">0,0000</span></div>
<div class="t" style="right:1059px;top:859px;">Alíq.Interna:</div>
<div class="f ro" style="left:863px;top:853px;width:79px;height:27px;line-height:25px;text-align:right;"><span style="">0,0000</span></div>
<div class="t" style="right:859px;top:859px;">Alíq.Ext. Guia:</div>
<div class="f ro" style="left:1064px;top:853px;width:79px;height:27px;line-height:25px;text-align:right;"><span style="">0,0000</span></div>
<div class="t" style="right:1076px;top:889px;">ICMSAntec:</div>
<div class="f ro" style="left:846px;top:883px;width:96px;height:27px;line-height:25px;text-align:right;"><span style="">0,000000</span></div>
<div class="f ro" style="left:947px;top:883px;width:86px;height:27px;line-height:25px;text-align:right;"><span style="">0,0000</span></div>
<div class="f ro" style="left:1035px;top:883px;width:108px;height:27px;line-height:25px;text-align:right;"><span style="">0,000000</span></div>
<div class="t b" style="left:758px;top:913px;">Acréscimo Custo</div>
<div class="sl" style="left:905px;top:920px;width:237px"></div>
<div class="t" style="right:1076px;top:937px;">% Acrés.:</div>
<div class="f ro" style="left:846px;top:931px;width:96px;height:26px;line-height:24px;text-align:right;"><span style="">0,0000</span></div>
<div class="t" style="right:887px;top:937px;">Vlr. Acrés.:</div>
<div class="f ro" style="left:1035px;top:931px;width:108px;height:26px;line-height:24px;text-align:right;"><span style="">0,000000</span></div>
<div class="t b" style="left:758px;top:960px;">Bonificação</div>
<div class="sl" style="left:862px;top:967px;width:107px"></div>
<div class="t" style="right:978px;top:983px;">Dinheiro:</div>
<div class="f ro" style="left:945px;top:977px;width:86px;height:27px;line-height:25px;text-align:right;"><span style="">0,0000</span></div>
<div class="f ro" style="left:1035px;top:977px;width:108px;height:27px;line-height:25px;text-align:right;"><span style="">0,000000</span></div>
<div class="f ro" style="left:945px;top:1007px;width:86px;height:23px;line-height:21px;text-align:right;"><span style=""></span></div>
<div class="f ro" style="left:1035px;top:1007px;width:108px;height:23px;line-height:21px;text-align:right;"><span style=""></span></div>
<div class="t b" style="left:1152px;top:206px;">Descontos financeiro</div>
<div class="sl" style="left:1341px;top:208px;width:197px"></div>
<div class="t" style="right:583px;top:232px;">Conta pagar:</div>
<div class="f ro" style="left:1340px;top:226px;width:86px;height:27px;line-height:25px;text-align:right;"><span style="">0,0000</span></div>
<div class="f ro" style="left:1430px;top:226px;width:107px;height:27px;line-height:25px;text-align:right;"><span style="">0,000000</span></div>
<div class="t" style="right:583px;top:262px;">Produtor rural:</div>
<div class="f ro" style="left:1340px;top:256px;width:86px;height:27px;line-height:25px;text-align:right;"><span style="">0,0000</span></div>
<div class="f ro" style="left:1430px;top:256px;width:107px;height:27px;line-height:25px;text-align:right;"><span style="">0,000000</span></div>
<div class="t b" style="left:1152px;top:286px;">Embalagem</div>
<div class="sl" style="left:1259px;top:293px;width:281px"></div>
<div class="t" style="left:1152px;top:304px;">Qt.Unit.CX(Fator):</div>
<div class="f ro" style="left:1292px;top:298px;width:248px;height:27px;line-height:25px;text-align:right;"><span style="">1</span></div>
<div class="t" style="right:484px;top:334px;">Peso Líq.:</div>
<div class="f ro" style="left:1439px;top:328px;width:101px;height:27px;line-height:25px;text-align:right;"><span style="">12,000000</span></div>
<div class="t" style="right:484px;top:364px;">Peso bruto:</div>
<div class="f ro" style="left:1439px;top:358px;width:101px;height:27px;line-height:25px;text-align:right;"><span style="">12,000000</span></div>
<div class="t" style="right:484px;top:393px;">Nº Lote:</div>
<div class="f ro" style="left:1439px;top:388px;width:101px;height:27px;line-height:25px;text-align:right;"><span style=""></span></div>
<div class="t b" style="left:1152px;top:419px;">Quantidades</div>
<div class="sl" style="left:1268px;top:426px;width:272px"></div>
<div class="t" style="right:484px;top:437px;">Qtde: (CX)</div>
<div class="f wh" style="left:1439px;top:431px;width:101px;height:27px;line-height:25px;text-align:right;"><span style="">1,000000</span></div>
<div class="t" style="right:486px;top:498px;">Qtde. Unid. Venda:</div>
<div class="f ro" style="left:1439px;top:491px;width:101px;height:27px;line-height:25px;text-align:right;"><span style="">1,000000</span></div>
<div class="t" style="right:486px;top:528px;">Bloqueada:</div>
<div class="f wh" style="left:1439px;top:522px;width:101px;height:27px;line-height:25px;text-align:right;"><span style="">0,000000</span></div>
<div class="t" style="right:486px;top:558px;">Avariada:</div>
<div class="f wh" style="left:1439px;top:551px;width:101px;height:28px;line-height:26px;text-align:right;"><span style="">0,000000</span></div>
<div class="t" style="right:486px;top:588px;">Preço merc. x Qtd.pedida:</div>
<div class="f ro" style="left:1439px;top:582px;width:101px;height:27px;line-height:25px;text-align:right;"><span style="">600,726117</span></div>
<div class="t b" style="left:1152px;top:615px;">Quantidades disponível</div>
<div class="sl" style="left:1355px;top:622px;width:185px"></div>
<div class="t" style="right:676px;top:639px;">Gerencial:</div>
<div class="f ro" style="left:1250px;top:634px;width:101px;height:27px;line-height:25px;text-align:right;direction:rtl;text-align:right;padding-right:4px;padding-left:0"><span style="">2.005,000000</span></div>
<div class="t" style="right:487px;top:639px;">Contábil:</div>
<div class="f ro" style="left:1439px;top:634px;width:101px;height:27px;line-height:25px;text-align:right;direction:rtl;text-align:right;padding-right:4px;padding-left:0"><span style="">2.005,000000</span></div>
<div class="t" style="right:676px;top:669px;">Bloqueada:</div>
<div class="f ro" style="left:1250px;top:664px;width:101px;height:27px;line-height:25px;text-align:right;"><span style="">15,000000</span></div>
<div class="t" style="right:487px;top:669px;">Avariada:</div>
<div class="f ro" style="left:1439px;top:664px;width:101px;height:27px;line-height:25px;text-align:right;"><span style="">0,000000</span></div>
<div class="t" style="right:676px;top:699px;">Reservada:</div>
<div class="f ro" style="left:1250px;top:694px;width:101px;height:27px;line-height:25px;text-align:right;"><span style="">0,000000</span></div>
<div class="t" style="right:487px;top:699px;">Saldo:</div>
<div class="f ro" style="left:1439px;top:694px;width:101px;height:27px;line-height:25px;text-align:right;direction:rtl;text-align:right;padding-right:4px;padding-left:0"><span style="">2.005,000000</span></div>
<div class="t b" style="left:1152px;top:735px;">Dados fiscais</div>
<div class="sl" style="left:1268px;top:742px;width:272px"></div>
<div class="t" style="right:674px;top:759px;">CFOP:</div>
<div class="f wh" style="left:1251px;top:752px;width:71px;height:27px;line-height:25px;text-align:left;"><span style="">5202</span></div>
<div class="btn" style="left:1327px;top:753px;width:32px;height:26px;line-height:24px;"><span class="dots">...</span></div>
<div class="t" style="right:491px;top:759px;">Sit.Trib.:</div>
<div class="f wh" style="left:1433px;top:752px;width:70px;height:27px;line-height:25px;text-align:left;"><span style="">10</span></div>
<div class="btn" style="left:1507px;top:753px;width:32px;height:26px;line-height:24px;"><span class="dots">...</span></div>
<div class="t" style="right:674px;top:789px;">Orig.Merc.:</div>
<div class="f wh" style="left:1251px;top:783px;width:71px;height:27px;line-height:25px;text-align:left;"><span style="">0</span></div>
<div class="btn" style="left:1327px;top:783px;width:32px;height:26px;line-height:24px;"><span class="dots">...</span></div>
<div class="t b" style="left:1152px;top:818px;">BCR</div>
<div class="sl" style="left:1190px;top:825px;width:350px"></div>
<div class="btn dis" style="left:1435px;top:831px;width:106px;height:25px;line-height:23px;">Calcular</div>
<div class="t" style="right:677px;top:867px;">ICMS:</div>
<div class="f ro" style="left:1245px;top:860px;width:97px;height:27px;line-height:25px;text-align:right;"><span style="">0,000000</span></div>
<div class="f ro" style="left:1445px;top:860px;width:97px;height:27px;line-height:25px;text-align:right;"><span style="">0,000000</span></div>
<div class="t" style="right:677px;top:897px;">ST BCR:</div>
<div class="f ro" style="left:1245px;top:890px;width:97px;height:27px;line-height:25px;text-align:right;"><span style="">0,000000</span></div>
<div class="f ro" style="left:1445px;top:890px;width:97px;height:27px;line-height:25px;text-align:right;"><span style="">0,000000</span></div>
<div class="t" style="right:677px;top:927px;">FCP ST BCR:</div>
<div class="f ro" style="left:1245px;top:920px;width:97px;height:28px;line-height:26px;text-align:right;"><span style="">753,300203</span></div>
<div class="f ro" style="left:1344px;top:920px;width:97px;height:28px;line-height:26px;text-align:right;"><span style="">2,0000</span></div>
<div class="f ro" style="left:1445px;top:920px;width:97px;height:28px;line-height:26px;text-align:right;"><span style="">11,299503</span></div>
<div class="t b" style="left:1152px;top:952px;">Buscar dados da nota fiscal de entrada</div>
<div class="sl" style="left:1486px;top:959px;width:54px"></div>
<div class="t" style="right:529px;top:981px;">Transação de Entrada:</div>
<div class="f ro" style="left:1395px;top:974px;width:108px;height:28px;line-height:26px;text-align:left;"><span style="">0</span></div>
<div class="btn dis" style="left:1508px;top:973px;width:28px;height:28px;line-height:26px;"><span class="dots">...</span></div>
</body></html>
